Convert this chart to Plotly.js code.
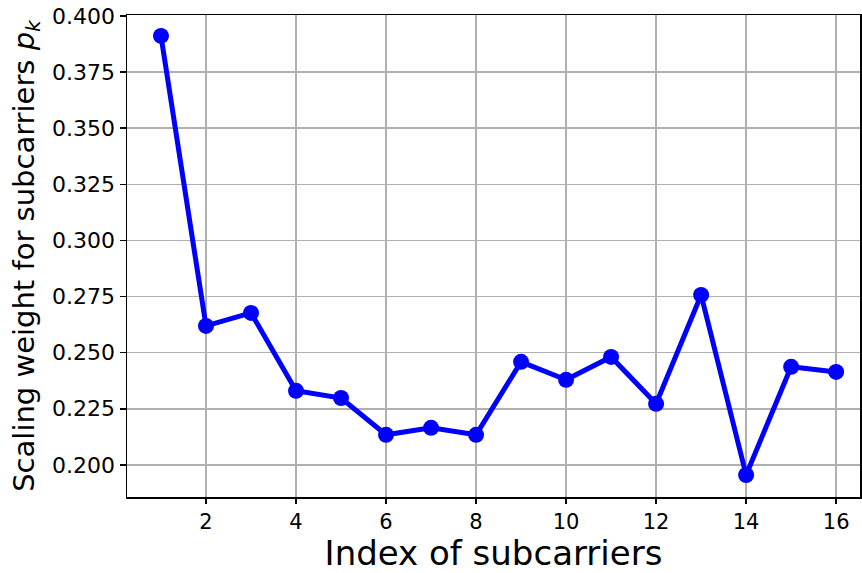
<!DOCTYPE html>
<html><head><meta charset="utf-8">
<script src="https://cdn.plot.ly/plotly-3.0.1.min.js"></script>
<style>html,body{margin:0;padding:0;background:#fff}</style>
</head><body>
<div id="chart" style="width:862px;height:573px"></div>
<script>
const subcarrierIndex = [1,2,3,4,5,6,7,8,9,10,11,12,13,14,15,16];
const scalingWeight = [0.3911,0.2619,0.2677,0.2330,0.2298,0.2134,0.2165,0.2134,0.2459,0.2379,0.2481,0.2272,0.2757,0.1955,0.2437,0.2414];
const xTickVals = [2,4,6,8,10,12,14,16];
const yTickVals = [0.200,0.225,0.250,0.275,0.300,0.325,0.350,0.375,0.400];
const yTickText = yTickVals.map(v => v.toFixed(3));

const trace = {
  x: subcarrierIndex, y: scalingWeight, type: 'scatter', mode: 'lines+markers',
  line: {color: '#0000ff', width: 5},
  marker: {color: '#0000ff', size: 16}
};
const layout = {
  width: 862, height: 573,
  margin: {l: 127, r: 2, t: 15, b: 76},
  paper_bgcolor: '#fff', plot_bgcolor: '#fff',
  font: {family: 'DejaVu Sans', color: '#000'},
  showlegend: false,
  xaxis: {
    range: [0.245, 16.53], tickvals: xTickVals, ticktext: xTickVals.map(String),
    showgrid: true, gridcolor: '#b0b0b0', gridwidth: 1.5,
    zeroline: false, showline: true, linecolor: '#000', linewidth: 1.5, mirror: true,
    ticks: 'outside', ticklen: 5, tickwidth: 1.5, tickcolor: '#000',
    tickfont: {size: 21, family: 'DejaVu Sans'},
    title: {text: 'Index of subcarriers', font: {size: 34, family: 'DejaVu Sans'}, standoff: 8}
  },
  yaxis: {
    range: [0.1857, 0.4004], tickvals: yTickVals, ticktext: yTickText,
    showgrid: true, gridcolor: '#b0b0b0', gridwidth: 1.5,
    zeroline: false, showline: true, linecolor: '#000', linewidth: 1.5, mirror: true,
    ticks: 'outside', ticklen: 6, tickwidth: 1.5, tickcolor: '#000',
    tickfont: {size: 22, family: 'DejaVu Sans'},
    title: {text: 'Scaling weight for subcarriers <i>p</i><sub><i>k</i></sub>', font: {size: 29, family: 'DejaVu Sans'}, standoff: 9}
  }
};
Plotly.newPlot('chart', [trace], layout, {displayModeBar: false, staticPlot: true});
</script>
</body></html>
